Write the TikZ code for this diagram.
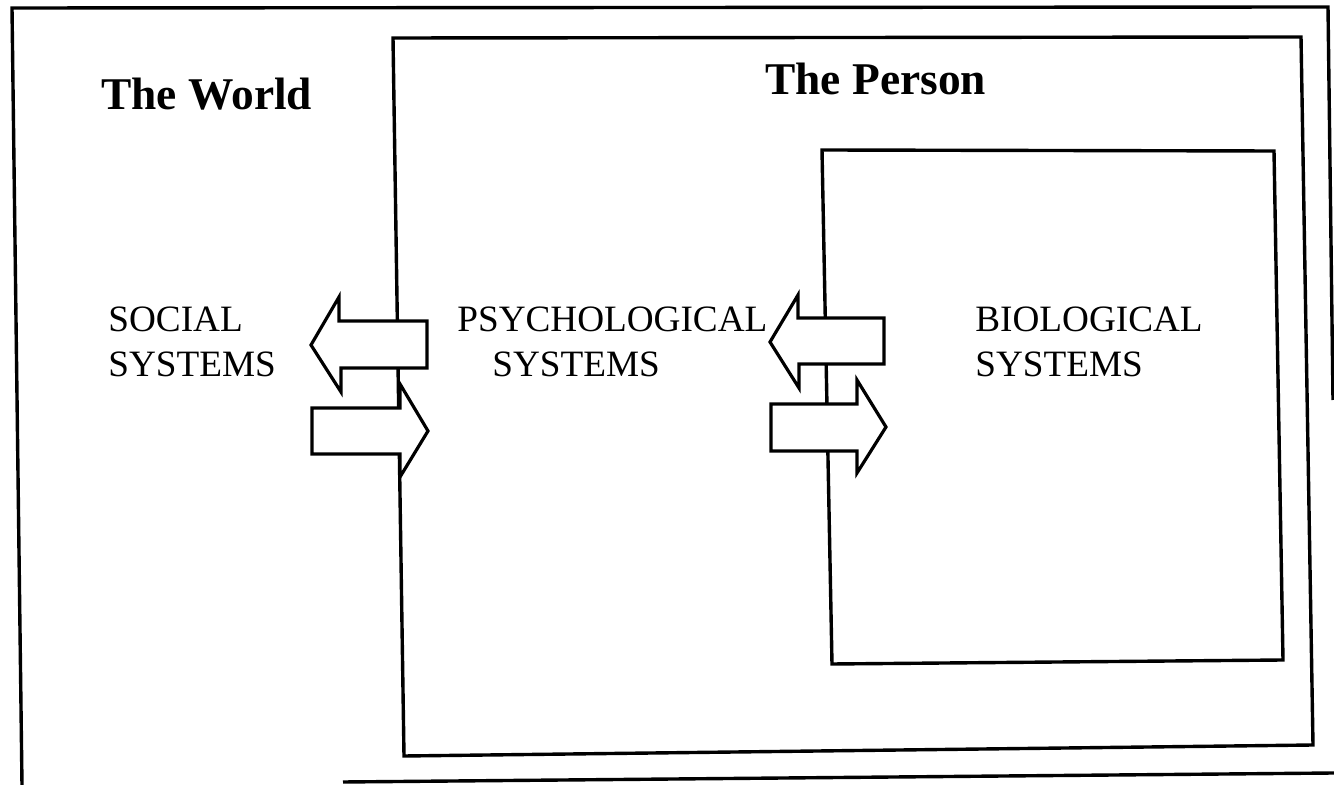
\documentclass[tikz,border=0pt]{standalone}
\usepackage{fontspec}
\setmainfont{Liberation Serif}
\begin{document}
\begin{tikzpicture}[x=0.5pt,y=-0.5pt,
  frame/.style={line width=1.7pt,line join=miter},
  blockarrow/.style={line width=1.6pt,fill=white,line join=miter},
  title/.style={anchor=base west,inner sep=0pt,font=\fontsize{22.7}{27}\selectfont\bfseries},
  label/.style={anchor=base west,inner sep=0pt,font=\fontsize{18.6}{22.5}\selectfont}]
\useasboundingbox (0,0) rectangle (1334,785);
% outer frame (world)
\draw[frame] (22,785) -- (12,8) -- (1328,7) -- (1333,400);
\draw[frame] (343,782) -- (1334,773);
% person box
\draw[frame] (393,38) -- (1301,37) -- (1313,745) -- (404,756) -- cycle;
% biological box
\draw[frame] (822,150) -- (1274,151) -- (1283,660) -- (832,664) -- cycle;
% arrows between world and person
\draw[blockarrow] (311,345) -- (339,297) -- (339,321) -- (427,321) -- (427,368) -- (341,368) -- (341,392) -- cycle;
\draw[blockarrow] (312,408) -- (400,408) -- (400,384) -- (428,431) -- (400,477) -- (400,454) -- (312,454) -- cycle;
% arrows between psychological and biological
\draw[blockarrow] (770,342) -- (798,295) -- (798,318) -- (884,318) -- (884,364) -- (799,364) -- (799,388) -- cycle;
\draw[blockarrow] (771,404) -- (857,404) -- (857,380) -- (886,427) -- (857,473) -- (857,451) -- (771,451) -- cycle;
% titles
\node[title] (world) at (101,110) {The World};
\node[title] (person) at (765,95) {The Person};
% labels
\node[label] (soc1) at (108,332) {SOCIAL};
\node[label] (soc2) at (108,377) {SYSTEMS};
\node[label] (psy1) at (457,332) {PSYCHOLOGICAL};
\node[label] (psy2) at (492,377) {SYSTEMS};
\node[label] (bio1) at (975,332) {BIOLOGICAL};
\node[label] (bio2) at (975,377) {SYSTEMS};
\end{tikzpicture}
\end{document}
